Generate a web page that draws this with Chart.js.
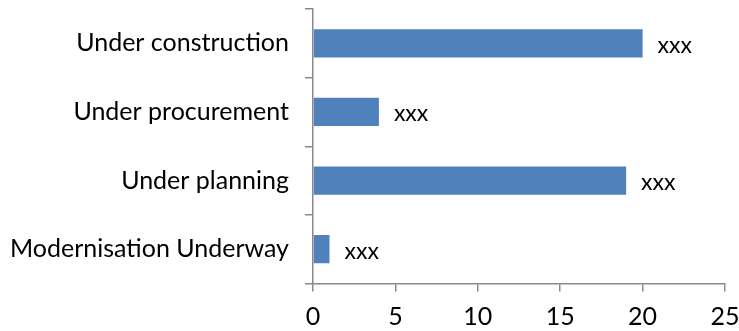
<!DOCTYPE html>
<html>
<head>
<meta charset="utf-8">
<script src="https://cdn.jsdelivr.net/npm/chart.js@4/dist/chart.umd.min.js"></script>
<style>
  html, body { margin: 0; padding: 0; background: #fff; }
  #wrap { width: 739px; height: 331px; }
</style>
</head>
<body>
<div id="wrap"><canvas id="chart" width="739" height="331"></canvas></div>
<script>
const categories = ['Under construction', 'Under procurement', 'Under planning', 'Modernisation Underway'];
const values = [20, 4, 19, 1];
const barLabels = ['xxx', 'xxx', 'xxx', 'xxx'];
const xMin = 0, xMax = 25, xStep = 5;

const FONT = 'Lato, "Open Sans", sans-serif';
const FSIZE = 25;
const AXIS = '#898989';

// draws the "xxx" text right of each bar
const barLabelPlugin = {
  id: 'barLabels',
  afterDatasetsDraw(chart) {
    const { ctx } = chart;
    const meta = chart.getDatasetMeta(0);
    ctx.save();
    ctx.font = (FSIZE - 2) + 'px ' + FONT;
    ctx.fillStyle = '#000';
    ctx.textBaseline = 'middle';
    ctx.textAlign = 'left';
    meta.data.forEach((bar, i) => {
      ctx.fillText(barLabels[i], bar.x + 15, bar.y + 2);
    });
    ctx.restore();
  }
};

new Chart(document.getElementById('chart').getContext('2d'), {
  type: 'bar',
  data: {
    labels: categories,
    datasets: [{
      data: values,
      backgroundColor: '#4F81BD',
      borderWidth: 0,
      categoryPercentage: 1,
      barPercentage: 0.41
    }]
  },
  options: {
    indexAxis: 'y',
    responsive: false,
    animation: false,
    layout: { padding: { top: 9, right: 14, left: 0, bottom: 0 } },
    plugins: { legend: { display: false }, tooltip: { enabled: false } },
    scales: {
      x: {
        min: xMin, max: xMax,
        border: { color: AXIS, width: 1.5 },
        grid: { drawOnChartArea: false, tickLength: 8, color: AXIS, lineWidth: 1.5 },
        ticks: { stepSize: xStep, color: '#000', padding: 10, font: { family: FONT, size: FSIZE } },
        afterFit(scale) { scale.height = 47.5; scale.paddingLeft = 0; scale.paddingRight = 0; }
      },
      y: {
        border: { color: AXIS, width: 1.5 },
        grid: { drawOnChartArea: false, tickLength: 8, color: AXIS, lineWidth: 1.5, offset: true },
        ticks: { color: '#000', padding: 16, font: { family: FONT, size: FSIZE } },
        afterFit(scale) { scale.width = 313; scale.paddingTop = 0; scale.paddingBottom = 0; }
      }
    }
  },
  plugins: [barLabelPlugin]
});
</script>
</body>
</html>
